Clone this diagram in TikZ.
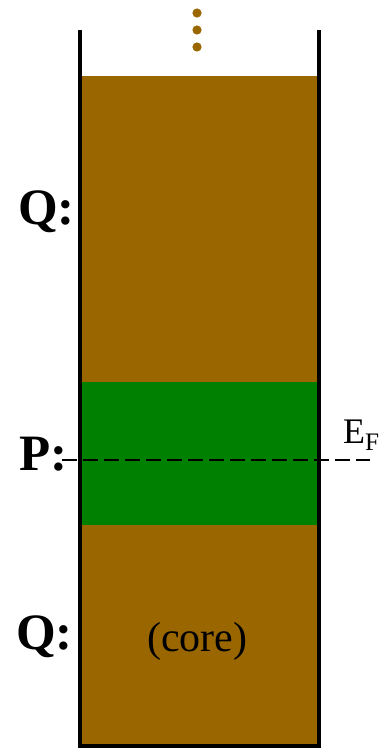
\documentclass[tikz,border=0pt]{standalone}
\usepackage{fontspec}
\setmainfont{Liberation Serif}
\definecolor{brownfill}{HTML}{996600}
\definecolor{greenfill}{HTML}{008000}
\begin{document}
\begin{tikzpicture}[x=1pt,y=-1pt,
  lbl/.style={font=\fontsize{51}{55}\selectfont\bfseries, anchor=base west, inner sep=0pt},
  wall/.style={line width=3.2pt, black},
  dot/.style={fill=brownfill, draw=none}]
\useasboundingbox (0,0) rectangle (387,749);
% layers
\fill[brownfill] (80,76) rectangle (319,746);
\fill[greenfill] (80,382) rectangle (319,525);
% container walls
\draw[wall, line join=miter] (80,30) -- (80,746) -- (319,746) -- (319,30);
% dots
\fill[dot] (197,13) circle (4.6);
\fill[dot] (197,30) circle (4.6);
\fill[dot] (197,47) circle (4.6);
% Fermi level
\coordinate (fl) at (62,460);
\coordinate (fr) at (370,460);
\draw[line width=1.5pt, dash pattern=on 15pt off 6pt, dash phase=0pt] (fl) -- (fr);
% labels
\node[lbl] (q1) at (18,224) {Q:};
\node[lbl] (p) at (19,470) {P:};
\node[lbl] (q2) at (16,649) {Q:};
\node[anchor=base west, inner sep=0pt, font=\fontsize{42}{46}\selectfont] (core) at (147,651) {(core)};
\node[anchor=base west, inner sep=0pt, font=\fontsize{36}{40}\selectfont] (ef) at (343,443) {E\textsubscript{F}};
\end{tikzpicture}
\end{document}
